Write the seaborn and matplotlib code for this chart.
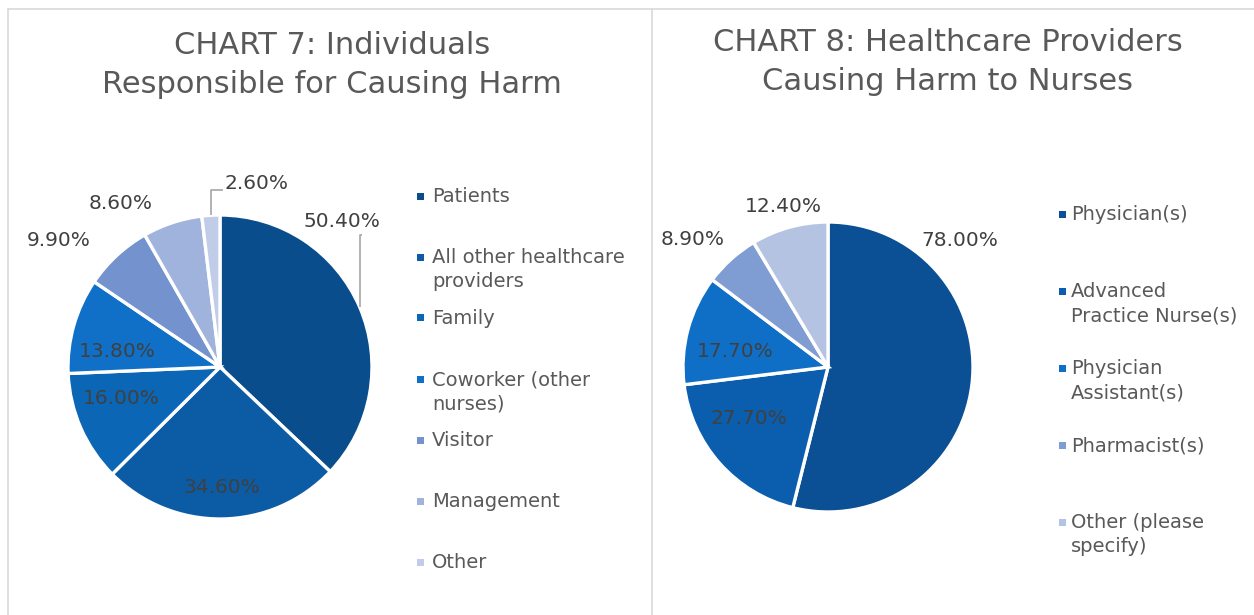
import numpy as np
import matplotlib
matplotlib.use("Agg")
import matplotlib.pyplot as plt
from matplotlib.patches import Rectangle
from matplotlib.lines import Line2D
import seaborn as sns

sns.set_theme(style="white")
plt.rcParams['font.family'] = ['DejaVu Sans']

# ---------------- data ----------------
left_title = "CHART 7: Individuals\nResponsible for Causing Harm"
left_categories = ["Patients", "All other healthcare\nproviders", "Family",
                   "Coworker (other\nnurses)", "Visitor", "Management", "Other"]
left_values = [50.4, 34.6, 16.0, 13.8, 9.9, 8.6, 2.6]
left_colors = ["#0A4D8C", "#0B5BA5", "#0C66B6", "#1070C8", "#7392CE", "#A0B3DC", "#C0CCE8"]

right_title = "CHART 8: Healthcare Providers\nCausing Harm to Nurses"
right_categories = ["Physician(s)", "Advanced\nPractice Nurse(s)", "Physician\nAssistant(s)",
                    "Pharmacist(s)", "Other (please\nspecify)"]
right_values = [78.0, 27.7, 17.7, 8.9, 12.4]
right_colors = ["#0B4F94", "#0B5EAD", "#0F6FC6", "#7F9CD3", "#B4C3E2"]

# label placement (polar: angle in degrees, distance in radius units)
left_label_pos = [(50, 1.25), (-89.3, 0.79), (-162.4, 0.68), (171.6, 0.68),
                  (141.9, 1.35), (121.4, 1.26), (78.6, 1.23)]
right_label_pos = [(43.7, 1.26), (-146.6, 0.65), (170.8, 0.65), (136.7, 1.28), (105.6, 1.15)]

W, H = 1254, 615
fig = plt.figure(figsize=(W / 100, H / 100), dpi=100)
fig.patch.set_facecolor("white")

# panel borders
border = "#D9D9D9"
fig.add_artist(Line2D([8 / W, 1.0], [1 - 9 / H, 1 - 9 / H], color=border, lw=1.2))
fig.add_artist(Line2D([8 / W, 8 / W], [0, 1 - 9 / H], color=border, lw=1.2))
fig.add_artist(Line2D([652 / W, 652 / W], [0, 1 - 9 / H], color=border, lw=1.2))

label_color = "#404040"
text_color = "#595959"


def make_ax(cx, cy, r, half):
    ax = fig.add_axes([(cx - half) / W, (H - cy - half) / H, 2 * half / W, 2 * half / H])
    return ax, half / r


def draw_pie(ax, lim, values, colors, label_pos, leaders):
    wedges, _ = ax.pie(values, colors=colors, startangle=90, counterclock=False,
                       radius=1.0, wedgeprops=dict(edgecolor="white", linewidth=2.4))
    ax.set_xlim(-lim, lim)
    ax.set_ylim(-lim, lim)
    ax.set_aspect("equal")
    ax.axis("off")
    for v, (ang, d) in zip(values, label_pos):
        a = np.deg2rad(ang)
        ax.text(d * np.cos(a), d * np.sin(a), f"{v:.2f}%", ha="center", va="center",
                fontsize=14.5, color=label_color)
    for idx, y_end, x_end in leaders:
        w = wedges[idx]
        mid = np.deg2rad((w.theta1 + w.theta2) / 2)
        x0, y0 = np.cos(mid), np.sin(mid)
        ax.plot([x0, x0, x_end], [y0, y_end, y_end], color="#A6A6A6", lw=1.2,
                solid_capstyle="butt")


# left pie
axL, limL = make_ax(220, 367, 152, 230)
draw_pie(axL, limL, left_values, left_colors, left_label_pos,
         leaders=[(0, 0.87, 0.934), (6, 1.165, 0.02)])

# right pie
axR, limR = make_ax(828, 367, 145, 230)
draw_pie(axR, limR, right_values, right_colors, right_label_pos, leaders=[])

# titles
fig.text(332 / W, 1 - 65 / H, left_title, ha="center", va="center", fontsize=22,
         color=text_color, linespacing=1.42)
fig.text(948 / W, 1 - 62 / H, right_title, ha="center", va="center", fontsize=22,
         color=text_color, linespacing=1.42)


def draw_legend(cats, colors, sq_x, txt_x, y0, step):
    for i, (c, col) in enumerate(zip(cats, colors)):
        yc = y0 + i * step
        fig.add_artist(Rectangle(((sq_x - 3.5) / W, 1 - (yc + 3.5) / H), 7 / W, 7 / H,
                                 facecolor=col, edgecolor="none", transform=fig.transFigure))
        fig.text(txt_x / W, 1 - (yc - 9) / H, c, ha="left", va="top", fontsize=14,
                 color=text_color, linespacing=1.34)


draw_legend(left_categories, left_colors, 420, 432, 196, 61)
draw_legend(right_categories, right_colors, 1062, 1071, 214, 77)

fig.savefig("out.png", dpi=100, facecolor="white")
